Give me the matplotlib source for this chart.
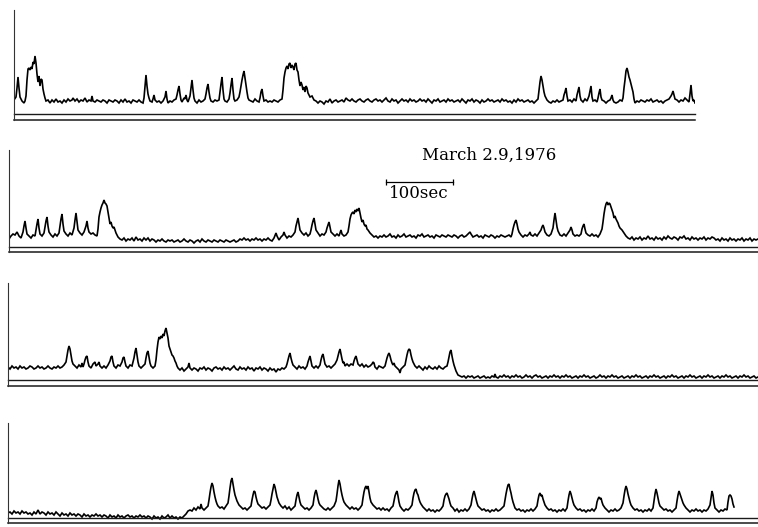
import matplotlib
matplotlib.use("Agg")
import matplotlib.pyplot as plt

# ---------------------------------------------------------------
# Data: chart-recorder traces, March 29, 1976.
# time is in chart units (1 unit = 1.5 s), amplitude in arbitrary
# pen-deflection units above the reference line of each strip.
# ---------------------------------------------------------------
TICK_SEC = 1.5
date_label = "March 2.9,1976"
scale_sec = 100
scale_label = "100sec"

row1_points = [
    (14,20),(16,23),(17,32),(18,43),(19,32),(20,23),(22,19),(24,17),(25,19),(26,24),(27,40),(28,51),(29,52),(30,50),
    (31,53),(32,51),(33,58),(34,56),(35,64),(36,57),(37,46),(38,38),(39,44),(40,34),(41,41),(42,40),(43,31),(44,26),
    (45,22),(46,19),(48,20),(50,17),(52,20),(54,18),(56,21),(58,18),(60,19),(62,17),(64,20),(66,18),(68,21),(70,19),
    (72,20),(73,22),(75,19),(77,21),(79,18),(81,20),(83,19),(85,22),(87,18),(89,20),(91,19),(92,24),(93,19),(95,18),
    (97,20),(99,19),(101,18),(103,20),(105,19),(107,17),(109,20),(111,19),(113,18),(115,20),(117,19),(119,17),(121,20),
    (123,18),(125,21),(127,18),(129,19),(131,17),(133,20),(135,19),(137,18),(139,20),(141,18),(143,17),(144,22),(145,34),
    (146,45),(147,34),(148,26),(149,22),(150,19),(152,18),(153,21),(154,25),(155,20),(157,18),(159,19),(161,17),(163,19),
    (165,23),(166,29),(167,21),(168,17),(170,19),(172,18),(174,20),(176,21),(177,25),(178,30),(179,34),(180,26),(181,20),
    (182,18),(184,22),(185,21),(186,25),(187,20),(188,18),(190,24),(191,32),(192,40),(193,30),(194,22),(195,19),(197,17),
    (199,20),(201,18),(203,19),(205,21),(206,26),(207,32),(208,36),(209,28),(210,22),(211,19),(213,18),(215,20),(217,19),
    (219,20),(220,28),(221,36),(222,43),(223,30),(224,21),(225,19),(227,18),(229,21),(230,27),(231,35),(232,42),(233,30),
    (234,21),(235,19),(237,20),(239,23),(240,28),(241,34),(242,40),(243,45),(244,49),(245,42),(246,35),(247,28),(248,22),
    (249,20),(251,19),(253,18),(255,21),(257,19),(259,18),(260,22),(261,28),(262,31),(263,24),(264,19),(266,20),(268,18),
    (270,19),(272,18),(274,20),(276,19),(278,18),(280,20),(282,21),(283,30),(284,42),(285,48),(286,52),(287,54),(288,51),
    (289,56),(290,57),(291,52),(292,55),(293,53),(294,50),(295,56),(296,57),(297,50),(298,48),(299,40),(300,34),(301,38),
    (302,35),(303,30),(304,33),(305,28),(306,34),(307,32),(308,27),(309,25),(310,23),(312,24),(314,20),(316,19),(318,17),
    (320,19),(322,18),(324,16),(326,19),(328,18),(330,21),(332,17),(334,19),(336,20),(338,18),(340,19),(342,20),(344,18),
    (346,22),(348,20),(350,19),(352,21),(354,19),(356,18),(358,20),(360,21),(362,19),(364,18),(366,20),(368,21),(370,19),
    (372,18),(374,20),(376,21),(378,19),(380,20),(382,18),(384,20),(386,22),(388,19),(390,18),(392,21),(394,19),(396,20),
    (398,17),(400,19),(402,21),(404,19),(406,20),(408,18),(410,21),(412,19),(414,20),(416,18),(418,19),(420,21),(422,19),
    (424,20),(426,18),(428,21),(430,19),(432,17),(434,20),(436,19),(438,21),(440,18),(442,19),(444,20),(446,18),(448,21),
    (450,19),(452,20),(454,18),(456,19),(458,20),(460,18),(462,21),(464,19),(466,17),(468,20),(470,19),(472,21),(474,18),
    (476,20),(478,19),(480,17),(482,20),(484,18),(486,19),(488,21),(490,19),(492,20),(494,18),(496,19),(498,20),(500,18),
    (502,21),(504,19),(506,20),(508,18),(510,19),(512,17),(514,20),(516,18),(518,21),(520,19),(522,20),(524,18),(526,19),
    (528,20),(530,18),(532,19),(534,17),(536,19),(538,21),(539,30),(540,38),(541,44),(542,40),(543,34),(544,28),(545,24),
    (547,20),(549,18),(551,17),(553,19),(555,18),(557,20),(559,18),(561,19),(563,20),(564,25),(565,28),(566,32),(567,24),
    (568,19),(570,20),(572,18),(574,21),(576,19),(577,25),(578,29),(579,33),(580,24),(581,20),(583,18),(585,21),(587,19),
    (589,24),(590,29),(591,34),(592,23),(593,19),(595,20),(597,18),(598,22),(599,27),(600,31),(601,23),(602,20),(604,19),
    (606,17),(608,19),(610,20),(611,22),(612,25),(613,20),(614,18),(616,17),(618,18),(620,20),(622,19),(623,22),(624,32),
    (625,40),(626,49),(627,52),(628,48),(629,43),(630,40),(631,36),(632,32),(633,28),(634,21),(635,17),(637,19),(639,18),
    (641,20),(643,19),(645,18),(647,20),(649,19),(651,21),(653,18),(655,19),(657,20),(659,18),(661,19),(663,17),(665,19),
    (667,20),(669,21),(671,24),(672,26),(673,29),(674,25),(675,21),(677,20),(679,18),(681,20),(683,19),(685,22),(687,20),
    (689,18),(690,26),(691,35),(692,24),(693,19),(694,20),(695,17),
]

row2_points = [
    (9,13),(11,16),(13,18),(15,17),(17,20),(19,16),(21,14),(23,20),(24,26),(25,31),(26,24),(27,18),(29,16),(31,14),
    (33,17),(35,16),(36,22),(37,28),(38,33),(39,24),(40,18),(42,16),(44,19),(45,25),(46,31),(47,35),(48,26),(49,20),
    (51,17),(53,15),(55,18),(57,16),(59,19),(60,26),(61,33),(62,38),(63,28),(64,21),(66,18),(68,16),(70,19),(72,17),
    (74,24),(75,32),(76,39),(77,30),(78,22),(80,19),(82,17),(84,20),(86,26),(87,31),(88,24),(89,20),(91,18),(93,19),
    (95,17),(97,16),(98,23),(99,35),(100,40),(101,44),(102,47),(103,49),(104,52),(105,49),(106,48),(107,46),(108,40),
    (109,34),(110,28),(111,30),(112,26),(113,24),(114,25),(115,22),(116,19),(117,17),(118,15),(120,13),(122,12),(124,14),
    (126,11),(128,13),(130,12),(132,14),(134,11),(136,15),(138,12),(140,13),(142,11),(144,14),(146,12),(148,14),(150,11),
    (152,13),(154,12),(156,10),(158,12),(160,11),(162,13),(164,11),(166,10),(168,12),(170,11),(172,12),(174,10),(176,11),
    (178,12),(180,10),(182,11),(184,13),(186,11),(188,10),(190,12),(192,11),(194,9),(196,11),(198,12),(200,10),(202,13),
    (204,11),(206,10),(208,12),(210,11),(212,10),(214,12),(216,11),(218,10),(220,12),(222,11),(224,10),(226,12),(228,11),
    (230,10),(232,11),(234,12),(236,10),(238,11),(240,13),(242,12),(244,14),(246,12),(248,13),(250,11),(252,13),(254,12),
    (256,14),(258,12),(260,13),(262,11),(264,13),(266,12),(268,14),(270,12),(272,11),(274,14),(276,19),(277,16),(279,12),
    (281,15),(283,17),(284,20),(285,17),(287,14),(289,16),(291,15),(293,17),(295,20),(296,26),(297,30),(298,34),(299,28),
    (300,22),(302,19),(304,17),(306,19),(308,16),(310,18),(311,22),(312,27),(313,31),(314,34),(315,28),(316,22),(318,19),
    (320,16),(322,18),(324,17),(326,20),(327,24),(328,27),(329,30),(330,25),(331,20),(333,18),(335,16),(337,18),(339,16),
    (340,19),(341,22),(342,18),(344,16),(346,17),(348,20),(349,26),(350,33),(351,37),(352,39),(353,40),(354,38),(355,42),
    (356,40),(357,43),(358,41),(359,44),(360,39),(361,34),(362,30),(363,32),(364,28),(365,26),(366,27),(367,23),(368,22),
    (370,19),(372,17),(374,15),(376,16),(378,14),(380,16),(382,15),(384,17),(386,15),(388,16),(390,18),(392,15),(394,16),
    (396,14),(398,17),(400,15),(402,16),(404,18),(406,15),(408,16),(410,17),(412,15),(414,16),(416,14),(418,17),(420,16),
    (422,18),(424,15),(426,16),(428,17),(430,15),(432,16),(434,14),(436,17),(438,16),(440,15),(442,17),(444,16),(446,15),
    (448,17),(450,16),(452,15),(454,17),(456,16),(458,14),(460,16),(462,17),(464,15),(466,16),(468,18),(470,20),(471,18),
    (473,15),(475,16),(477,17),(479,15),(481,16),(483,14),(485,17),(487,16),(489,15),(491,17),(493,16),(495,14),(497,16),
    (499,15),(501,17),(503,16),(505,15),(507,16),(509,17),(511,15),(512,18),(513,23),(514,27),(515,30),(516,32),(517,28),
    (518,23),(519,20),(521,17),(523,15),(525,17),(527,16),(529,18),(530,20),(531,17),(533,16),(535,18),(537,16),(539,19),
    (541,22),(542,25),(543,27),(544,24),(545,20),(547,17),(549,16),(551,18),(553,24),(554,32),(555,39),(556,32),(557,25),
    (558,21),(560,17),(562,16),(564,18),(566,16),(568,19),(570,22),(571,25),(572,22),(573,18),(575,16),(577,17),(579,16),
    (581,18),(582,23),(583,26),(584,28),(585,23),(586,19),(588,17),(590,16),(592,18),(594,16),(596,17),(598,15),(600,18),
    (602,23),(603,30),(604,38),(605,44),(606,48),(607,50),(608,47),(609,49),(610,48),(611,45),(612,42),(613,39),(614,34),
    (615,36),(616,33),(617,31),(618,29),(619,26),(620,24),(621,23),(622,22),(624,19),(626,16),(628,14),(630,13),(632,15),
    (634,12),(636,14),(638,13),(640,15),(642,12),(644,14),(646,13),(648,16),(650,13),(652,14),(654,12),(656,15),(658,13),
    (660,14),(662,12),(664,15),(666,13),(668,16),(670,14),(672,13),(674,15),(676,14),(678,12),(680,15),(682,14),(684,16),
    (686,13),(688,14),(690,12),(692,15),(694,13),(696,14),(698,12),(700,14),(702,13),(704,15),(706,12),(708,14),(710,13),
    (712,15),(714,14),(716,12),(718,13),(720,11),(722,14),(724,12),(726,13),(728,11),(730,14),(732,12),(734,13),(736,11),
    (738,13),(740,12),(742,14),(744,11),(746,13),(748,12),(750,14),(752,11),(754,13),(756,12),(758,13),
]

row3_points = [
    (8,19),(10,17),(12,20),(14,18),(16,19),(18,17),(20,20),(22,18),(24,19),(26,17),(28,18),(30,20),(32,19),(34,17),
    (36,18),(38,20),(40,18),(42,19),(44,17),(46,18),(48,20),(50,18),(52,17),(54,19),(56,18),(58,20),(60,18),(62,19),
    (64,21),(66,24),(67,30),(68,36),(69,40),(70,37),(71,31),(72,25),(73,22),(75,20),(77,18),(79,21),(81,19),(82,23),
    (83,19),(84,22),(85,26),(86,29),(87,30),(88,24),(89,20),(91,18),(93,22),(95,24),(96,20),(98,22),(99,24),(100,20),
    (102,18),(104,20),(106,18),(108,21),(110,25),(111,29),(112,30),(113,24),(114,20),(116,18),(118,21),(120,20),(122,24),
    (123,28),(124,29),(125,24),(126,20),(128,18),(130,21),(132,20),(134,28),(135,34),(136,38),(137,31),(138,24),(139,20),
    (141,18),(143,20),(145,22),(146,28),(147,33),(148,35),(149,29),(150,23),(151,20),(153,18),(155,20),(156,26),(157,36),
    (158,44),(159,49),(160,47),(161,50),(162,48),(163,52),(164,50),(165,55),(166,58),(167,53),(168,48),(169,40),(170,37),
    (171,34),(172,31),(173,30),(174,28),(175,25),(176,23),(177,20),(178,18),(180,16),(182,18),(184,15),(186,17),(188,19),
    (189,23),(190,18),(192,16),(194,18),(196,17),(198,15),(200,18),(202,17),(204,19),(206,16),(208,18),(210,17),(212,15),
    (214,18),(216,19),(218,17),(220,18),(222,16),(224,19),(226,17),(228,18),(230,16),(232,18),(234,20),(236,17),(238,16),
    (240,19),(242,17),(244,18),(246,16),(248,19),(250,17),(252,18),(254,15),(256,18),(258,17),(260,19),(262,16),(264,18),
    (266,17),(268,15),(270,18),(272,16),(274,17),(276,14),(278,17),(280,16),(282,18),(284,17),(286,19),(287,22),(288,26),
    (289,30),(290,33),(291,28),(292,24),(293,21),(295,19),(297,17),(299,20),(301,18),(303,19),(305,17),(307,20),(308,24),
    (309,27),(310,30),(311,25),(312,20),(314,18),(316,20),(318,18),(320,21),(321,26),(322,30),(323,32),(324,27),(325,22),
    (327,19),(329,20),(331,18),(333,20),(335,22),(337,26),(338,30),(339,34),(340,37),(341,32),(342,27),(343,23),(344,24),
    (345,20),(347,22),(349,20),(351,22),(353,21),(354,25),(355,28),(356,30),(357,26),(358,22),(360,20),(362,22),(364,19),
    (366,21),(368,19),(370,20),(372,22),(373,24),(374,23),(375,19),(377,17),(379,20),(381,19),(383,18),(385,20),(386,24),
    (387,28),(388,31),(389,33),(390,30),(391,26),(392,23),(393,21),(394,23),(395,20),(397,18),(399,16),(400,13),(401,17),
    (403,19),(405,21),(406,26),(407,31),(408,35),(409,37),(410,36),(411,31),(412,27),(413,24),(414,22),(415,20),(417,18),
    (419,20),(421,18),(423,16),(425,19),(427,17),(429,20),(431,18),(433,17),(435,19),(437,17),(439,20),(441,18),(443,17),
    (445,19),(447,20),(448,24),(449,29),(450,34),(451,36),(452,30),(453,25),(454,21),(455,18),(456,15),(457,13),(458,11),
    (460,10),(462,9),(464,10),(466,8),(468,10),(470,9),(472,10),(474,8),(476,9),(478,10),(480,8),(482,9),(484,10),
    (486,8),(488,9),(490,8),(492,10),(494,9),(495,12),(496,9),(498,8),(500,10),(502,9),(504,11),(506,9),(508,10),
    (510,8),(512,10),(514,9),(516,11),(518,9),(520,10),(522,8),(524,9),(526,11),(528,9),(530,10),(532,8),(534,10),
    (536,11),(538,9),(540,10),(542,8),(544,9),(546,10),(548,8),(550,10),(552,9),(554,11),(556,9),(558,10),(560,8),
    (562,10),(564,9),(566,11),(568,9),(570,10),(572,8),(574,9),(576,10),(578,8),(580,10),(582,9),(584,11),(586,9),
    (588,10),(590,8),(592,9),(594,10),(596,8),(598,9),(600,11),(602,9),(604,10),(606,8),(608,10),(610,9),(612,11),
    (614,9),(616,10),(618,8),(620,9),(622,10),(624,8),(626,9),(628,10),(630,8),(632,10),(634,9),(636,11),(638,9),
    (640,10),(642,8),(644,9),(646,10),(648,8),(650,10),(652,9),(654,11),(656,9),(658,10),(660,8),(662,9),(664,10),
    (666,8),(668,10),(670,9),(672,11),(674,9),(676,10),(678,8),(680,9),(682,10),(684,8),(686,10),(688,9),(690,11),
    (692,9),(694,10),(696,8),(698,9),(700,10),(702,8),(704,10),(706,9),(708,11),(710,9),(712,10),(714,8),(716,9),
    (718,10),(720,8),(722,10),(724,9),(726,11),(728,9),(730,10),(732,8),(734,9),(736,10),(738,8),(740,10),(742,9),
    (744,11),(746,9),(748,10),(750,8),(752,9),(754,10),(756,8),(758,9),
]

row4_points = [
    (8,10),(10,11),(12,9),(14,12),(16,10),(18,11),(20,9),(22,12),(24,10),(26,11),(28,9),(30,10),(32,8),(34,11),
    (36,9),(38,13),(40,9),(42,11),(44,10),(46,8),(48,11),(50,9),(52,10),(54,8),(56,11),(58,9),(60,7),(62,10),
    (64,8),(66,9),(68,7),(70,10),(72,8),(74,9),(76,7),(78,9),(80,8),(82,6),(84,9),(86,7),(88,8),(90,6),
    (92,8),(94,7),(96,9),(98,7),(100,8),(102,6),(104,8),(106,7),(108,5),(110,8),(112,6),(114,7),(116,5),(118,8),
    (120,6),(122,7),(124,5),(126,7),(128,8),(130,6),(132,7),(134,5),(136,7),(138,6),(140,8),(142,6),(144,7),(146,5),
    (148,7),(150,6),(152,4),(154,7),(156,5),(158,6),(160,4),(162,7),(164,5),(166,6),(168,8),(170,5),(172,7),(174,5),
    (176,6),(178,4),(180,6),(182,5),(184,7),(186,9),(188,12),(190,13),(192,12),(194,15),(196,13),(198,16),(200,14),
    (201,19),(202,15),(204,13),(206,15),(208,17),(209,23),(210,30),(211,36),(212,40),(213,37),(214,31),(215,26),(216,22),
    (217,19),(218,17),(220,15),(222,16),(224,14),(226,17),(228,20),(229,27),(230,35),(231,42),(232,45),(233,39),(234,33),
    (235,28),(236,25),(237,22),(238,20),(239,18),(241,16),(243,14),(245,15),(247,13),(249,15),(251,17),(252,23),(253,28),
    (254,32),(255,31),(256,26),(257,22),(258,19),(260,17),(262,15),(264,16),(266,14),(268,16),(270,18),(271,23),(272,29),
    (273,34),(274,39),(275,36),(276,31),(277,26),(278,23),(279,20),(281,17),(283,15),(285,17),(287,14),(289,16),(291,13),
    (293,15),(295,17),(296,23),(297,28),(298,31),(299,26),(300,21),(301,18),(303,16),(305,14),(307,15),(309,13),(311,15),
    (313,18),(314,25),(315,30),(316,33),(317,29),(318,24),(319,20),(320,18),(322,16),(324,14),(326,13),(328,15),(330,13),
    (332,15),(334,17),(336,22),(337,29),(338,37),(339,43),(340,39),(341,33),(342,28),(343,24),(344,21),(346,18),(348,16),
    (350,14),(352,16),(354,14),(356,15),(358,13),(360,15),(362,18),(363,25),(364,31),(365,35),(366,37),(367,34),(368,37),
    (369,31),(370,25),(371,21),(373,18),(375,16),(377,14),(379,15),(381,13),(383,15),(385,13),(387,14),(389,12),(391,15),
    (393,17),(394,22),(395,27),(396,30),(397,32),(398,27),(399,21),(400,17),(402,14),(404,12),(406,14),(408,13),(410,15),
    (412,18),(413,25),(414,30),(415,33),(416,34),(417,30),(418,28),(419,24),(420,21),(421,19),(423,16),(425,14),(427,12),
    (429,14),(431,12),(433,13),(435,11),(437,13),(439,12),(441,14),(443,17),(444,23),(445,27),(446,29),(447,30),(448,27),
    (449,24),(450,20),(451,17),(453,15),(455,12),(457,14),(459,11),(461,13),(463,12),(465,14),(467,12),(469,14),(471,18),
    (472,24),(473,29),(474,32),(475,28),(476,24),(477,20),(478,17),(480,15),(482,13),(484,14),(486,12),(488,13),(490,11),
    (492,13),(494,12),(496,14),(498,12),(500,13),(502,15),(504,17),(505,23),(506,29),(507,34),(508,38),(509,39),(510,34),
    (511,30),(512,25),(513,21),(514,18),(515,15),(517,13),(519,14),(521,12),(523,13),(525,11),(527,13),(529,12),(531,14),
    (533,12),(535,14),(537,17),(538,23),(539,28),(540,30),(541,27),(542,28),(543,24),(544,21),(545,18),(547,15),(549,13),
    (551,14),(553,12),(555,13),(557,11),(559,13),(561,12),(563,14),(565,12),(567,15),(568,22),(569,28),(570,32),(571,29),
    (572,25),(573,21),(574,18),(576,15),(578,13),(580,14),(582,12),(584,13),(586,11),(588,13),(590,12),(592,14),(594,12),
    (596,15),(597,21),(598,24),(599,26),(600,24),(601,25),(602,21),(603,18),(605,15),(607,13),(609,11),(611,13),(613,12),
    (615,14),(617,12),(619,13),(621,15),(623,20),(624,27),(625,33),(626,37),(627,34),(628,29),(629,25),(630,21),(631,18),
    (633,15),(635,13),(637,14),(639,12),(641,13),(643,11),(645,13),(647,12),(649,14),(651,12),(653,15),(654,22),(655,29),
    (656,34),(657,30),(658,25),(659,20),(660,17),(662,15),(664,13),(666,14),(668,12),(670,13),(672,11),(674,13),(676,15),
    (677,22),(678,28),(679,32),(680,29),(681,26),(682,23),(683,20),(684,18),(686,15),(688,13),(690,11),(692,13),(694,12),
    (696,14),(698,12),(700,13),(702,11),(704,13),(706,12),(708,14),(710,18),(711,25),(712,32),(713,28),(714,20),(715,15),
    (717,13),(719,11),(721,13),(723,12),(725,14),(727,13),(728,21),(729,27),(730,28),(731,27),(732,24),(733,19),(734,16),
]

rows_data = [row1_points, row2_points, row3_points, row4_points]

# ---------------------------------------------------------------
# Layout (pixels of the 758x527 canvas)
# ---------------------------------------------------------------
W, H = 758, 527
layout = [
    dict(left=14, right=695, top=10, bottom=120, gap=6),
    dict(left=9, right=758, top=150, bottom=252, gap=5),
    dict(left=8, right=758, top=283, bottom=386, gap=6),
    dict(left=8, right=758, top=423, bottom=523, gap=5),
]

fig = plt.figure(figsize=(W / 100, H / 100), dpi=100)
fig.patch.set_facecolor("white")

axes = []
for pts, lay in zip(rows_data, layout):
    t = [p[0] for p in pts]
    amp = [p[1] for p in pts]
    ax = fig.add_axes([lay["left"] / W, 1 - lay["bottom"] / H,
                       (lay["right"] - lay["left"]) / W,
                       (lay["bottom"] - lay["top"]) / H])
    ax.set_xlim(lay["left"], lay["right"])
    ax.set_ylim(0, lay["bottom"] - lay["top"])
    ax.axis("off")
    ax.plot(t, amp, color="black", lw=1.2, solid_joinstyle="miter")
    ax.axhline(0, color="#1a1a1a", lw=1.1, clip_on=False)
    ax.axhline(lay["gap"], color="#1a1a1a", lw=1.0, clip_on=False)
    ax.axvline(lay["left"], color="#333333", lw=0.8, clip_on=False)
    axes.append(ax)

# date label and time-scale bar in strip 2
ax2 = axes[1]
bar_start = 386
bar_len = scale_sec / TICK_SEC
ax2.plot([bar_start, bar_start + bar_len], [70, 70], color="black", lw=0.9,
         marker="|", markersize=4, markeredgewidth=0.9, clip_on=False)
ax2.text(bar_start + bar_len / 2 - 1, 67, scale_label, ha="center", va="top",
         fontsize=12, family="DejaVu Serif", color="black")
ax2.text(489, 97, date_label, ha="center", va="center",
         fontsize=12, family="DejaVu Serif", color="black")

fig.savefig("out.png", dpi=100, facecolor="white")
